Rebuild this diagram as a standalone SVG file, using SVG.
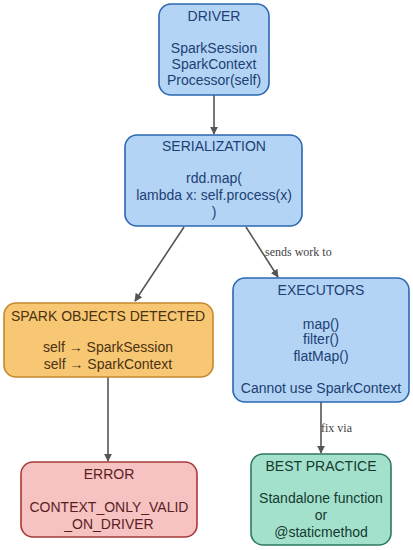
<svg xmlns="http://www.w3.org/2000/svg" width="413" height="550" viewBox="0 0 413 550">
<defs>
<marker id="arr" viewBox="0 0 10 10" refX="9" refY="5" markerWidth="8" markerHeight="8" markerUnits="userSpaceOnUse" orient="auto">
<path d="M0,0 L10,5 L0,10 z" fill="#555"/>
</marker>
<style>
rect{stroke-width:1.6}
.blue rect{fill:#b3d4f5;stroke:#2c67b1}
.blue text{fill:#1d3f73}
.orange rect{fill:#f8c774;stroke:#c4892c}
.orange text{fill:#4a3212}
.red rect{fill:#f6c2c2;stroke:#a63a3a}
.red text{fill:#5a1e1e}
.green rect{fill:#a4e1cd;stroke:#2e7a5c}
.green text{fill:#143a2e}
text{font-family:"Liberation Sans",Arial,sans-serif;font-size:14px;text-anchor:middle}
.edge{stroke:#555;stroke-width:1.6;fill:none;marker-end:url(#arr)}
.elabel{font-family:"Liberation Serif","Times New Roman",serif;font-size:12px;fill:#444;text-anchor:start}
</style>
</defs>
<g id="connectors">
<line class="edge" x1="214" y1="95" x2="214" y2="134"/>
<line class="edge" x1="184" y1="227" x2="135" y2="301"/>
<line class="edge" x1="246" y1="227" x2="278" y2="277"/>
<text class="elabel" x="265" y="256">sends work to</text>
<line class="edge" x1="108" y1="377" x2="108" y2="461"/>
<line class="edge" x1="321" y1="402" x2="321" y2="453"/>
<text class="elabel" x="321" y="432">fix via</text>
</g>
<g id="driver" class="blue">
<rect x="159" y="4" width="110" height="91" rx="12"/>
<text x="214" y="21">DRIVER</text>
<text x="214" y="53">SparkSession</text>
<text x="214" y="69">SparkContext</text>
<text x="214" y="85">Processor(self)</text>
</g>
<g id="serialization" class="blue">
<rect x="125" y="135" width="177" height="91" rx="12"/>
<text x="214" y="151">SERIALIZATION</text>
<text x="214" y="183">rdd.map(</text>
<text x="214" y="200">lambda x: self.process(x)</text>
<text x="214" y="217">)</text>
</g>
<g id="spark_objects" class="orange">
<rect x="4" y="303" width="209" height="74" rx="12"/>
<text x="108" y="321">SPARK OBJECTS DETECTED</text>
<text x="108" y="352">self → SparkSession</text>
<text x="108" y="369">self → SparkContext</text>
</g>
<g id="executors" class="blue">
<rect x="233" y="278" width="176" height="124" rx="12"/>
<text x="321" y="295">EXECUTORS</text>
<text x="321" y="329">map()</text>
<text x="321" y="344">filter()</text>
<text x="321" y="361">flatMap()</text>
<text x="321" y="393">Cannot use SparkContext</text>
</g>
<g id="error" class="red">
<rect x="21" y="462" width="176" height="75" rx="12"/>
<text x="109" y="479">ERROR</text>
<text x="109" y="512">CONTEXT_ONLY_VALID</text>
<text x="109" y="529">_ON_DRIVER</text>
</g>
<g id="best_practice" class="green">
<rect x="251" y="454" width="140" height="91" rx="12"/>
<text x="321" y="471">BEST PRACTICE</text>
<text x="321" y="503">Standalone function</text>
<text x="321" y="520">or</text>
<text x="321" y="537">@staticmethod</text>
</g>
</svg>
